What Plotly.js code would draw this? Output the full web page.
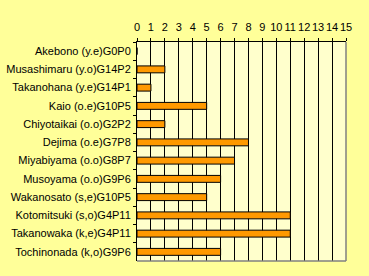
<!DOCTYPE html>
<html><head><meta charset="utf-8">
<script src="https://cdn.plot.ly/plotly-3.0.1.min.js"></script>
<style>html,body{margin:0;padding:0;background:#FFFF99;}</style>
</head><body>
<div id="chart" style="width:369px;height:276px;"></div>
<script>
const categories = ["Akebono (y.e)G0P0","Musashimaru (y.o)G14P2","Takanohana (y.e)G14P1","Kaio (o.e)G10P5","Chiyotaikai (o.o)G2P2","Dejima (o.e)G7P8","Miyabiyama (o.o)G8P7","Musoyama (o.o)G9P6","Wakanosato (s,e)G10P5","Kotomitsuki (s,o)G4P11","Takanowaka (k,e)G4P11","Tochinonada (k,o)G9P6"];
const values = [0,2,1,5,2,8,7,6,5,11,11,6];
const xTicks = [0,1,2,3,4,5,6,7,8,9,10,11,12,13,14,15];

const trace = {
  type: "bar", orientation: "h",
  x: values, y: categories,
  width: 0.38,
  marker: {color: "#FF9900", line: {color: "#000000", width: 1}},
  hoverinfo: "none"
};
const layout = {
  width: 369, height: 276,
  margin: {l: 137, r: 23, t: 42, b: 15, pad: 0},
  paper_bgcolor: "#FFFF99",
  plot_bgcolor: "#FFFFCC",
  font: {family: "Liberation Sans, Arial, sans-serif", size: 11, color: "#000000"},
  showlegend: false,
  xaxis: {
    side: "top", range: [0, 15], tickvals: xTicks, ticktext: xTicks.map(String),
    tickangle: 0,
    showgrid: true, gridcolor: "#000000", gridwidth: 1,
    zeroline: false, showline: true, linecolor: "#000000", linewidth: 1,
    ticks: "outside", ticklen: 3, tickcolor: "#000000", tickwidth: 1,
    ticklabelstandoff: 3,
    fixedrange: true
  },
  yaxis: {
    type: "category", autorange: "reversed",
    showgrid: false, zeroline: false, showline: true, linecolor: "#000000", linewidth: 1,
    ticks: "outside", tickson: "boundaries", ticklen: 3, tickcolor: "#000000", tickwidth: 1,
    ticklabelstandoff: 3,
    fixedrange: true
  },
  shapes: [
    {type: "line", xref: "paper", yref: "paper", x0: 1, x1: 1, y0: 0, y1: 1, line: {color: "#808080", width: 1.5}, layer: "above"},
    {type: "line", xref: "paper", yref: "paper", x0: 0, x1: 1, y0: 0, y1: 0, line: {color: "#808080", width: 1.5}, layer: "above"}
  ]
};
Plotly.newPlot("chart", [trace], layout, {displayModeBar: false, staticPlot: true});
</script>
</body></html>
